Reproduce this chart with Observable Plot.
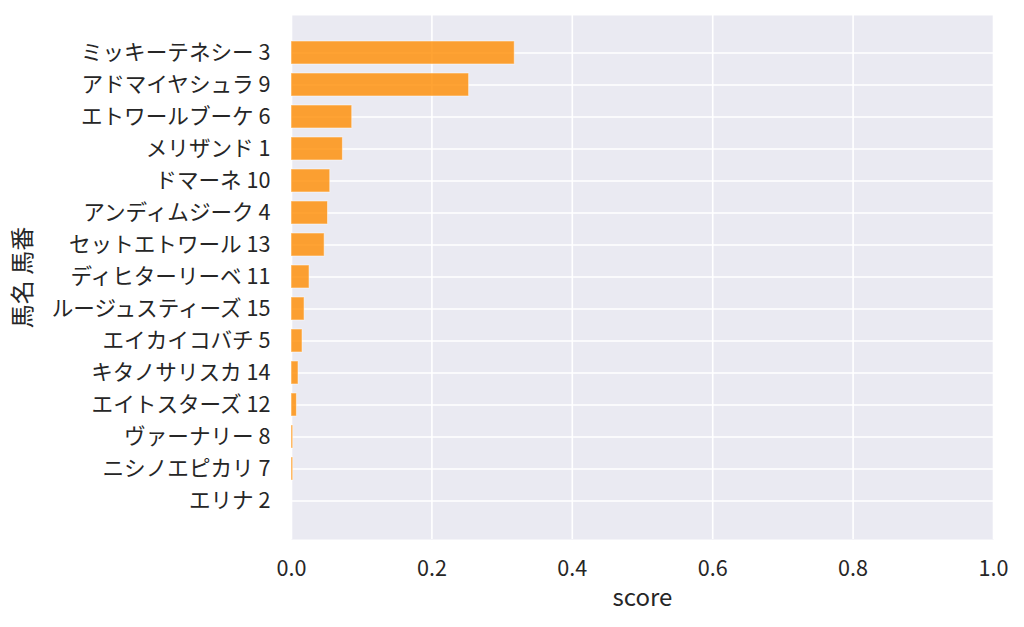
<!DOCTYPE html>
<html>
<head>
<meta charset="utf-8">
<script src="https://cdn.jsdelivr.net/npm/d3@7"></script>
<script src="https://cdn.jsdelivr.net/npm/@observablehq/plot@0.6"></script>
<style>
  html, body { margin: 0; padding: 0; background: #fff; }
  #chart svg { display: block; }
  g[aria-label="x-axis label"] text { font-size: 24px; }
  g[aria-label="y-axis label"] text { font-size: 24px; }
</style>
</head>
<body>
<div id="chart"></div>
<script>
const horseNames = ["ミッキーテネシー","アドマイヤシュラ","エトワールブーケ","メリザンド","ドマーネ","アンディムジーク","セットエトワール","ディヒターリーベ","ルージュスティーズ","エイカイコバチ","キタノサリスカ","エイトスターズ","ヴァーナリー","ニシノエピカリ","エリナ"];
const horseNumbers = [3, 9, 6, 1, 10, 4, 13, 11, 15, 5, 14, 12, 8, 7, 2];
const scores = [0.318, 0.253, 0.0865, 0.0732, 0.0552, 0.052, 0.0472, 0.0257, 0.0186, 0.0157, 0.010, 0.0077, 0.0024, 0.0024, 0.0];
const xTicks = [0, 0.2, 0.4, 0.6, 0.8, 1.0];

const labels = horseNames.map((n, i) => `${n} ${horseNumbers[i]}`);
const data = labels.map((l, i) => ({label: l, score: scores[i]}));

const chart = Plot.plot({
  width: 1024,
  height: 627,
  marginLeft: 291,
  marginRight: 31,
  marginTop: 15,
  marginBottom: 88,
  style: {fontFamily: "'Noto Sans CJK JP', 'Noto Sans', sans-serif", fontSize: "21.6px", color: "#262626", background: "#fff"},
  x: {domain: [0, 1]},
  y: {type: "band", domain: labels, paddingInner: 0.28, paddingOuter: 0.74},
  marks: [
    Plot.frame({fill: "#EAEAF2", stroke: null}),
    Plot.gridX(xTicks, {stroke: "#fff", strokeOpacity: 1, strokeWidth: 1.6}),
    Plot.gridY({stroke: "#fff", strokeOpacity: 1, strokeWidth: 1.6}),
    Plot.barX(data, {x: "score", y: "label", fill: "darkorange", fillOpacity: 0.8, stroke: "#fff", strokeOpacity: 0.5, strokeWidth: 1}),
    Plot.axisX({ticks: xTicks, tickFormat: d3.format(".1f"), tickSize: 0, tickPadding: 21, label: "score", labelAnchor: "center", labelArrow: "none", labelOffset: 66, fill: "#262626"}),
    Plot.axisY({tickSize: 0, tickPadding: 21, label: "馬名 馬番", labelAnchor: "center", labelArrow: "none", labelOffset: 278, fill: "#262626"})
  ]
});
document.getElementById("chart").appendChild(chart);
</script>
</body>
</html>
